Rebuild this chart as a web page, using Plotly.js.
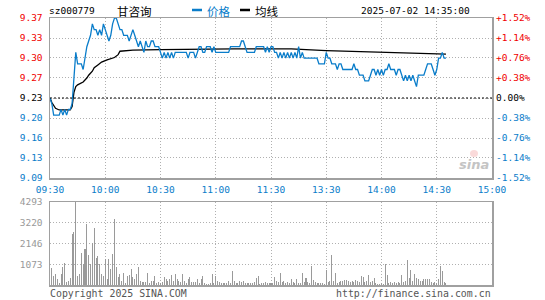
<!DOCTYPE html>
<html>
<head>
<meta charset="utf-8">
<script src="https://cdn.plot.ly/plotly-3.0.1.min.js"></script>
<style>
html,body{margin:0;padding:0;background:#fff;}
#chart{width:545px;height:300px;}
</style>
</head>
<body>
<div id="chart"></div>
<script>
// ---------------- data ----------------
const stockCode = 'sz000779';
const stockName = '甘咨询';
const stamp = '2025-07-02 14:35:00';
const prevClose = 9.23;

const timeTickLabels = ['09:30','10:00','10:30','11:00','11:30','13:30','14:00','14:30','15:00'];
const timeTickMinutes = [0,30,60,90,120,150,180,210,240];

const priceTickVals = [9.3703,9.3352,9.3002,9.2651,9.23,9.1949,9.1598,9.1248,9.0897];
const priceTickText = ['9.37','9.33','9.30','9.27','9.23','9.20','9.16','9.13','9.09'];
const pctTickVals = [1.52,1.14,0.76,0.38,0,-0.38,-0.76,-1.14,-1.52];
const pctTickText = ['+1.52%','+1.14%','+0.76%','+0.38%','0.00%','-0.38%','-0.76%','-1.14%','-1.52%'];
const volTickVals = [1073,2146,3220,4293];
const volTickText = ['1073','2146','3220','4293'];

// minute price (index = trading minute from 09:30)
const price = [
9.23,9.22,9.20,9.20,9.20,9.20,9.21,9.20,9.21,9.20,
9.21,9.21,9.22,9.27,9.31,9.29,9.29,9.29,9.28,9.30,
9.32,9.33,9.34,9.36,9.35,9.35,9.34,9.35,9.34,9.36,
9.35,9.34,9.33,9.34,9.36,9.37,9.37,9.36,9.35,9.35,
9.34,9.34,9.34,9.33,9.34,9.35,9.34,9.33,9.32,9.33,
9.32,9.31,9.33,9.32,9.32,9.33,9.33,9.32,9.32,9.32,
9.31,9.30,9.31,9.30,9.31,9.30,9.31,9.30,9.31,9.31,
9.31,9.31,9.31,9.31,9.31,9.30,9.31,9.31,9.31,9.30,
9.31,9.32,9.32,9.31,9.31,9.32,9.32,9.32,9.31,9.32,
9.31,9.31,9.31,9.31,9.31,9.31,9.31,9.31,9.32,9.32,
9.32,9.32,9.32,9.32,9.33,9.33,9.32,9.31,9.31,9.31,
9.31,9.31,9.32,9.32,9.32,9.32,9.32,9.31,9.32,9.31,
9.32,9.32,9.31,9.31,9.30,9.31,9.30,9.31,9.30,9.31,
9.30,9.31,9.30,9.31,9.30,9.32,9.30,9.31,9.30,9.30,
9.30,9.30,9.30,9.30,9.30,9.30,9.29,9.29,9.29,9.29,
9.31,9.30,9.30,9.29,9.29,9.29,9.28,9.29,9.29,9.28,
9.28,9.28,9.28,9.28,9.28,9.29,9.28,9.28,9.27,9.27,
9.27,9.26,9.26,9.26,9.27,9.28,9.28,9.27,9.28,9.27,
9.28,9.27,9.28,9.28,9.29,9.28,9.28,9.28,9.27,9.28,
9.28,9.27,9.26,9.27,9.26,9.27,9.26,9.27,9.26,9.25,
9.27,9.27,9.27,9.27,9.28,9.29,9.29,9.29,9.28,9.27,
9.28,9.30,9.30,9.31,9.30,9.30
];

// average price line, read at selected minutes
const avgMinutes = [0,1,3,5,11,12,13,14,15,18,20,21,23,24,26,28,31,35,37,38,45,60,100,131,150,170,193,203,215];
const avgValues  = [9.230,9.222,9.212,9.209,9.209,9.215,9.240,9.250,9.253,9.258,9.265,9.270,9.277,9.283,9.288,9.293,9.297,9.301,9.306,9.312,9.314,9.315,9.316,9.316,9.313,9.311,9.309,9.307,9.307];

// minute volume
const volume = [
0,896,465,586,328,86,586,931,1155,155,
207,380,2655,2758,4293,465,586,1672,1069,1879,
3172,1552,1069,2190,2948,1414,1500,1069,586,465,
1362,328,1327,810,1586,3431,931,414,552,207,
638,121,465,517,845,414,293,552,931,190,
155,155,155,603,86,207,190,465,86,155,
86,155,414,328,207,293,500,207,586,293,
207,155,586,207,121,293,431,155,155,155,
293,86,328,465,86,69,69,86,586,86,
465,207,155,86,86,121,86,207,86,724,
207,121,86,207,155,207,86,86,86,86,
86,155,379,465,69,86,86,155,86,86,
120,86,414,207,155,603,155,207,86,155,
86,293,155,86,293,86,86,603,155,345,
155,86,983,259,155,86,86,121,86,69,
776,155,207,1552,207,603,86,155,207,207,
241,241,207,155,207,155,259,207,155,465,
431,155,207,517,155,207,379,86,69,69,
86,69,1069,517,86,155,86,155,86,155,
86,517,155,207,1293,379,776,207,586,379,
293,207,207,293,328,328,293,155,86,155,
86,293,983,724,155,86
];

// ---------------- style ----------------
const BLUE = '#0a7dca';
const RED = '#f00000';
const GREY = '#a0a0a0';
const MONO = 'DejaVu Sans Mono, Liberation Mono, monospace';
const CJK = 'Noto Sans CJK SC, sans-serif';

function colorize(texts, vals, ref) {
  return texts.map((t, k) => {
    const c = vals[k] > ref + 1e-9 ? RED : (vals[k] < ref - 1e-9 ? BLUE : '#000');
    return '<span style="color:' + c + '">' + t + '</span>';
  });
}

// pixel helpers for the layout (plot area: x 50..492, y 18..285)
const L = 50, R = 492, T = 18, B = 285;
const px = x => (x - L) / (R - L);
const py = y => (B - y) / (B - T);

const minutes = price.map((_, i) => i);
const volMinutes = volume.map((_, i) => i);

const traces = [
  {x: volMinutes, y: volume, type: 'bar', xaxis: 'x2', yaxis: 'y2',
   marker: {color: '#9a9a9a', line: {width: 0}}, width: 0.55, hoverinfo: 'skip'},
  {x: avgMinutes, y: avgValues, type: 'scatter', mode: 'lines', xaxis: 'x', yaxis: 'y',
   line: {color: '#000', width: 1.3}, hoverinfo: 'skip'},
  {x: minutes, y: price, type: 'scatter', mode: 'lines', xaxis: 'x', yaxis: 'y',
   line: {color: BLUE, width: 1.3}, hoverinfo: 'skip'},
  {x: [0], y: [0], type: 'scatter', mode: 'markers', xaxis: 'x', yaxis: 'y3',
   marker: {opacity: 0}, hoverinfo: 'skip', showlegend: false}
];

const gridStyle = {showgrid: true, gridcolor: '#b0b0b0', gridwidth: 1, griddash: '1px,2px'};
const frame = {showline: true, linecolor: GREY, linewidth: 1.5, mirror: true, zeroline: false};

const annotations = [
  {text: stockCode, x: px(48), y: py(11), xanchor: 'left', yanchor: 'middle', font: {family: MONO, size: 9.5, color: '#000'}},
  {text: stockName, x: px(116), y: py(11), xanchor: 'left', yanchor: 'middle', font: {family: CJK, size: 11.5, color: '#000'}},
  {text: '价格', x: px(206), y: py(11), xanchor: 'left', yanchor: 'middle', font: {family: CJK, size: 11.5, color: BLUE}},
  {text: '均线', x: px(254), y: py(11), xanchor: 'left', yanchor: 'middle', font: {family: CJK, size: 11.5, color: '#000'}},
  {text: stamp, x: px(471), y: py(11), xanchor: 'right', yanchor: 'middle', font: {family: MONO, size: 9.5, color: '#000'}},
  {text: 'Copyright 2025 SINA.COM', x: px(49), y: py(293), xanchor: 'left', yanchor: 'middle', font: {family: MONO, size: 9.9, color: '#555'}},
  {text: 'http://finance.sina.com.cn', x: px(492), y: py(293), xanchor: 'right', yanchor: 'middle', font: {family: MONO, size: 9.9, color: '#555'}},
  {text: '<b><i>sina</i></b>', x: px(474), y: py(164), xanchor: 'center', yanchor: 'middle', font: {family: 'DejaVu Sans, sans-serif', size: 13, color: '#c4c4c4'}}
].map(a => Object.assign({xref: 'paper', yref: 'paper', showarrow: false, borderpad: 0}, a));

const shapes = [
  {type: 'line', xref: 'x', yref: 'y', x0: 0, x1: 240, y0: prevClose, y1: prevClose,
   line: {color: '#000', width: 1, dash: '2px,2px'}},
  {type: 'line', xref: 'paper', yref: 'paper', x0: px(192), x1: px(202), y0: py(10), y1: py(10),
   line: {color: BLUE, width: 2.5}},
  {type: 'line', xref: 'paper', yref: 'paper', x0: px(240), x1: px(250), y0: py(10), y1: py(10),
   line: {color: '#000', width: 2.5}},
  {type: 'circle', xref: 'paper', yref: 'paper', x0: px(470), x1: px(478), y0: py(150), y1: py(157),
   fillcolor: 'rgba(240,150,150,0.35)', line: {width: 0}}
];

const layout = {
  width: 545, height: 300,
  margin: {l: L, r: 545 - R, t: T, b: 300 - B, pad: 0},
  paper_bgcolor: '#fff', plot_bgcolor: '#fff',
  showlegend: false,
  xaxis: Object.assign({domain: [0, 1], anchor: 'y', range: [0, 240],
    tickmode: 'array', tickvals: timeTickMinutes, ticktext: timeTickLabels,
    ticks: '', ticklabelstandoff: 2, tickfont: {family: MONO, size: 9.5, color: BLUE}}, gridStyle, frame),
  yaxis: Object.assign({domain: [py(178), 1], anchor: 'x', range: [9.0897, 9.3703],
    tickmode: 'array', tickvals: priceTickVals, ticktext: colorize(priceTickText, priceTickVals, prevClose),
    ticks: '', ticklabelstandoff: 4, tickfont: {family: MONO, size: 9.5}}, gridStyle, frame),
  yaxis3: {overlaying: 'y', side: 'right', anchor: 'x', range: [-1.52, 1.52],
    tickmode: 'array', tickvals: pctTickVals, ticktext: colorize(pctTickText, pctTickVals, 0),
    ticks: '', ticklabelstandoff: 3, tickfont: {family: MONO, size: 9.5},
    showgrid: false, zeroline: false, showline: false},
  xaxis2: Object.assign({domain: [0, 1], anchor: 'y2', range: [0, 240], matches: 'x',
    tickmode: 'array', tickvals: timeTickMinutes, showticklabels: false, ticks: ''}, gridStyle, frame),
  yaxis2: Object.assign({domain: [0, py(202)], anchor: 'x2', range: [0, 4293],
    tickmode: 'array', tickvals: volTickVals, ticktext: volTickText,
    ticks: '', ticklabelstandoff: 4, tickfont: {family: MONO, size: 9.5, color: '#999'}}, gridStyle, frame),
  bargap: 0,
  annotations: annotations,
  shapes: shapes
};

Plotly.newPlot('chart', traces, layout, {staticPlot: true, displayModeBar: false});
</script>
</body>
</html>
